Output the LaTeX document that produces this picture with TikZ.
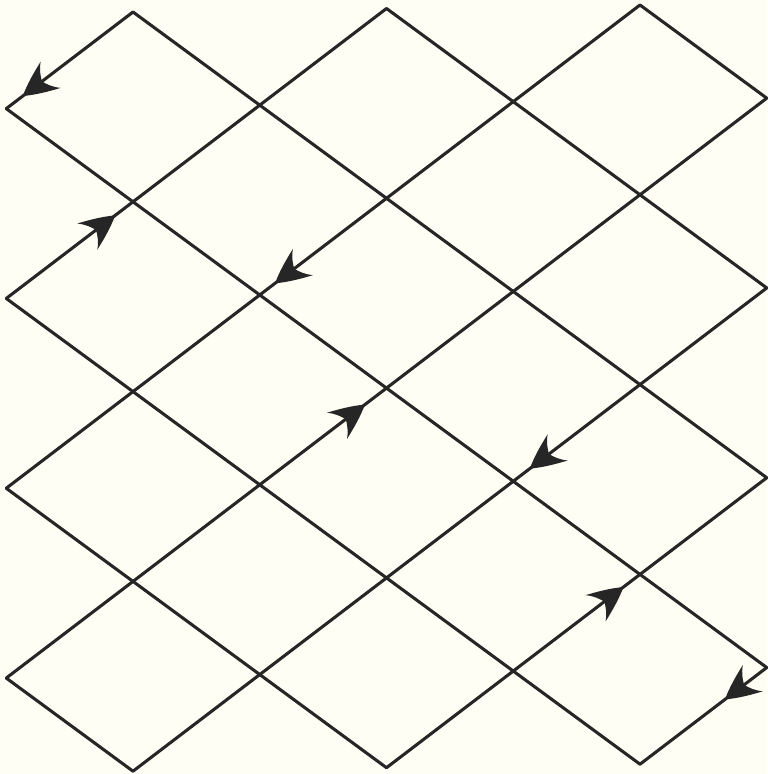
\documentclass[tikz,border=0pt]{standalone}
\usetikzlibrary{decorations.markings}
\definecolor{bg}{RGB}{254,254,244}
\definecolor{ink}{RGB}{38,38,38}
\tikzset{
  lattice/.style={draw=ink, line width=2.3pt, line cap=round, line join=round},
  barbhead/.style={decorate, decoration={markings, mark=at position #1 with {%
    \fill[ink] (35,0) .. controls (25,6.5) and (12,12) .. (0,16.5)
      .. controls (6,11) and (9,5) .. (11,0)
      .. controls (9,-5) and (6,-11) .. (0,-16.5)
      .. controls (12,-12) and (25,-6.5) .. (35,0) -- cycle;}}},
}
\begin{document}
\begin{tikzpicture}[x=0.75pt,y=-0.75pt]
\useasboundingbox (0,0) rectangle (767,774);
\fill[bg] (0,0) rectangle (767,774);
% lattice points
\foreach \i in {0,...,6}{
  \foreach \j in {0,...,8}{
    \coordinate (p-\i-\j) at ({6.25+126.75*\i},{13.75-1.75*\i+94.9*\j});
  }
}
% down-right lines
\foreach \a/\b in {5-0/6-1, 3-0/6-3, 1-0/6-5, 0-1/6-7, 0-3/5-8, 0-5/3-8, 0-7/1-8}{
  \draw[lattice] (p-\a) -- (p-\b);
}
% down-left lines
\foreach \a/\b in {1-0/0-1, 3-0/0-3, 5-0/0-5, 6-1/0-7, 6-3/1-8, 6-5/3-8, 6-7/5-8}{
  \draw[lattice] (p-\a) -- (p-\b);
}
% arrowheads
\path[barbhead=0.65] (p-1-0) -- (p-0-1);
\path[barbhead=0.64] (p-0-3) -- (p-1-2);
\path[barbhead=0.66] (p-3-2) -- (p-2-3);
\path[barbhead=0.61] (p-2-5) -- (p-3-4);
\path[barbhead=0.65] (p-5-4) -- (p-4-5);
\path[barbhead=0.65] (p-4-7) -- (p-5-6);
\path[barbhead=0.11] (p-6-7) -- (p-5-8);
\end{tikzpicture}
\end{document}
